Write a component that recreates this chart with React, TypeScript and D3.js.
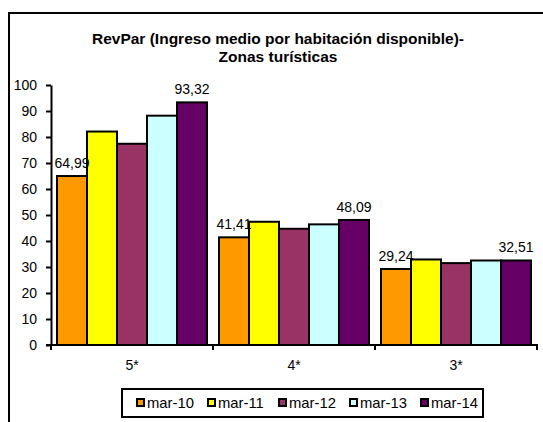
import React, { useEffect, useRef } from 'react';
import * as d3 from 'd3';

const categories = ['5*', '4*', '3*'];
const seriesNames = ['mar-10', 'mar-11', 'mar-12', 'mar-13', 'mar-14'];
const seriesColors = ['#FF9900', '#FFFF00', '#993366', '#CCFFFF', '#660066'];
// values per series, one entry per category
const mar10 = [64.99, 41.41, 29.24];
const mar11 = [82.1, 47.4, 32.9];
const mar12 = [77.4, 44.7, 31.5];
const mar13 = [88.2, 46.4, 32.5];
const mar14 = [93.32, 48.09, 32.51];
const seriesValues = [mar10, mar11, mar12, mar13, mar14];
// only the first and last series carry labels
const labelledSeries = [0, 4];
const yTicks = [0, 10, 20, 30, 40, 50, 60, 70, 80, 90, 100];

const font = 'Arial, "Liberation Sans", sans-serif';

const App = () => {
  const ref = useRef<SVGSVGElement>(null);

  useEffect(() => {
    const svg = d3.select(ref.current);
    svg.selectAll('*').remove();

    const left = 51, right = 537, top = 85, bottom = 345;

    const x = d3.scaleBand().domain(categories).range([left, right]).paddingInner(0).paddingOuter(0);
    const inner = d3.scaleBand().domain(seriesNames)
      .range([0, x.bandwidth()]).paddingInner(0).paddingOuter(0.2);
    const y = d3.scaleLinear().domain([0, 100]).range([bottom, top]);

    // outer chart frame (runs off the picture)
    svg.append('rect')
      .attr('x', 9).attr('y', 13).attr('width', 600).attr('height', 500)
      .attr('fill', 'white').attr('stroke', 'black').attr('stroke-width', 2);

    // title
    const title = svg.append('text')
      .attr('text-anchor', 'middle')
      .attr('font-family', font).attr('font-weight', 'bold').attr('font-size', 15.5);
    title.append('tspan').attr('x', 278).attr('y', 44).text('RevPar (Ingreso medio por habitación disponible)-');
    title.append('tspan').attr('x', 278).attr('y', 62).text('Zonas turísticas');

    // bars
    const groups = svg.append('g').selectAll('g')
      .data(seriesNames).enter().append('g')
      .attr('fill', (d, i) => seriesColors[i]);

    groups.selectAll('rect')
      .data((d, i) => categories.map((c, j) => ({ cat: c, s: d, v: seriesValues[i][j] })))
      .enter().append('rect')
      .attr('x', d => x(d.cat)! + inner(d.s)!)
      .attr('y', d => y(d.v))
      .attr('width', inner.bandwidth())
      .attr('height', d => y(0) - y(d.v))
      .attr('stroke', 'black').attr('stroke-width', 2);

    // data labels
    labelledSeries.forEach(si => {
      svg.append('g').selectAll('text')
        .data(categories.map((c, j) => ({ cat: c, v: seriesValues[si][j] })))
        .enter().append('text')
        .attr('x', d => x(d.cat)! + inner(seriesNames[si])! + inner.bandwidth() / 2)
        .attr('y', d => y(d.v) - 8)
        .attr('text-anchor', 'middle')
        .attr('font-family', font).attr('font-size', 14)
        .text(d => d3.format('.2f')(d.v).replace('.', ','));
    });

    // y axis
    const yAxis = svg.append('g')
      .attr('transform', `translate(${left},0)`)
      .call(d3.axisLeft(y).tickValues(yTicks).tickSize(5).tickPadding(9).tickSizeOuter(0));
    yAxis.select('.domain').attr('stroke-width', 2);
    yAxis.selectAll('line').attr('stroke-width', 2);
    yAxis.selectAll('text').attr('font-family', font).attr('font-size', 14).attr('fill', 'black');

    // x axis with ticks on category boundaries
    const xAxis = svg.append('g').attr('transform', `translate(0,${bottom})`);
    xAxis.append('line')
      .attr('x1', left - 5).attr('x2', right + 1)
      .attr('stroke', 'black').attr('stroke-width', 2);
    xAxis.selectAll('.tick')
      .data([...categories.map(c => x(c)!), right])
      .enter().append('line')
      .attr('x1', d => d).attr('x2', d => d)
      .attr('y1', 0).attr('y2', 5)
      .attr('stroke', 'black').attr('stroke-width', 2);
    xAxis.selectAll('text')
      .data(categories).enter().append('text')
      .attr('x', d => x(d)! + x.bandwidth() / 2)
      .attr('y', 25)
      .attr('text-anchor', 'middle')
      .attr('font-family', font).attr('font-size', 14)
      .text(d => d);

    // legend
    const legend = svg.append('g');
    legend.append('rect')
      .attr('x', 122).attr('y', 389).attr('width', 361).attr('height', 28)
      .attr('fill', 'white').attr('stroke', 'black').attr('stroke-width', 2);
    const item = legend.selectAll('g.item')
      .data(seriesNames).enter().append('g')
      .attr('transform', (d, i) => `translate(${137 + i * 71},403)`);
    item.append('rect')
      .attr('x', 0).attr('y', -4).attr('width', 7).attr('height', 7)
      .attr('fill', (d, i) => seriesColors[i])
      .attr('stroke', 'black').attr('stroke-width', 2);
    item.append('text')
      .attr('x', 10).attr('y', 5)
      .attr('font-family', font).attr('font-size', 14.8)
      .text(d => d);
  }, []);

  return (
    <svg ref={ref} width={543} height={422}
      style={{ position: 'absolute', left: 0, top: 0, background: 'white' }} />
  );
};

export default App;
